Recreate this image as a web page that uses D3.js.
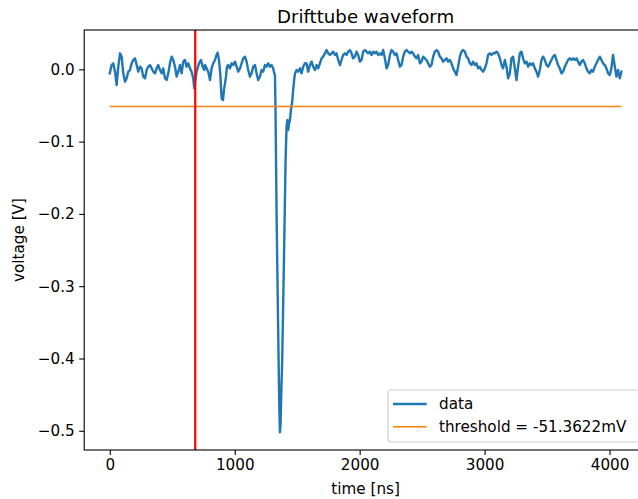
<!DOCTYPE html>
<html><head><meta charset="utf-8">
<script src="https://cdn.jsdelivr.net/npm/d3@7"></script>
<style>body{margin:0;background:#fff} svg text{font-family:"DejaVu Sans",sans-serif;fill:#000}</style>
</head><body><svg id="c" width="638" height="499"></svg>
<script>
// time axis [ns]
const times = [0,15,28,42,55,68,82,95,108,122,135,148,162,175,188,202,215,228,242,255,268,282,295,308,322,335,348,362,375,388,402,415,428,442,455,468,482,495,508,522,535,548,562,575,588,602,615,628,642,655,668,676,695,714,730,743,756,
762,775,788,802,815,828,842,855,863,874,884,895,906,914,922,930,938,948,962,975,988,1002,1015,1028,1042,1055,1068,1082,1095,1108,1122,1135,1148,1162,1175,1188,1202,1215,1228,1242,1255,1268,1282,1295,1308,1316,
1322,1326,1335,1346,1356,1362,1367,1373,1380,1394,1407,1415,1422,1428,1436,1442,1450,1460,1468,1476,1482,1495,1508,1522,1535,1548,
1562,1575,1588,1602,1615,1628,1642,1655,1668,1682,1695,1708,1722,1735,1748,1762,1775,1788,1802,1815,1828,1842,1855,1868,1882,1895,1908,1922,1935,1948,1962,1975,1988,2002,2015,2028,2042,2055,2068,2082,2095,2108,2122,2135,2148,2162,2175,2188,2202,2215,2228,2242,2255,2268,2282,2295,2308,2322,2335,2348,2362,
2375,2388,2402,2415,2428,2442,2455,2468,2482,2495,2508,2522,2535,2548,2562,2575,2588,2602,2615,2628,2642,2655,2668,2682,2695,2708,2722,2735,2748,2762,2775,2788,2802,2815,2828,2842,2855,2868,2882,2895,2908,2922,2935,2948,2962,2975,2988,3002,3015,3028,3042,3055,3068,3082,3095,3108,3122,3135,3148,3162,3175,3188,3202,
3215,3228,3242,3255,3268,3282,3295,3308,3322,3335,3348,3362,3375,3388,3402,3415,3428,3442,3455,3468,3482,3495,3508,3522,3535,3548,3562,3575,3588,3602,3615,3628,3642,3655,3668,3682,3695,3708,3722,3735,3748,3762,3775,3788,3802,3815,3828,3842,3855,3868,3882,3895,3908,3922,3935,3948,3962,3975,3988,4002,4015,4028,4042,4055,4068,4082,4095];
// voltage [mV]
const voltsMV = [-5.6,5.9,8.3,-3.3,-21.7,3.6,22.1,17.5,-5.6,-17.1,-12.5,-3.3,-1.0,8.3,12.9,15.2,5.9,-3.3,3.6,1.3,-10.2,-12.5,-1.0,3.6,5.9,1.3,-3.3,-5.6,1.3,5.9,-1.0,-5.6,1.3,-12.5,-14.8,-5.6,8.3,17.5,12.9,3.6,-10.2,-3.3,5.9,-5.6,10.6,12.9,3.6,8.3,1.3,-3.3,-12.5,-26.3,-3.3,8.3,12.9,3.6,-1.0,
5.9,1.3,-3.3,-14.8,1.3,8.3,12.9,19.8,23.0,12.9,-5.6,-40.2,-42.5,-28.6,-19.4,-10.2,3.6,5.9,1.3,8.3,5.9,10.6,3.6,-3.3,1.3,8.3,15.2,17.5,10.6,-1.0,-10.2,-5.6,3.6,5.9,-5.6,-14.8,-10.2,-1.0,-3.3,5.9,3.6,8.3,3.6,5.9,1.3,-5.6,
-8,-50,-200,-340,-460,-502,-490,-445,-402,-264,-125,-79,-70,-84,-74,-70,-56,-45,-28,-14,-6,-1.0,-3.3,1.3,-5.6,3.6,
8.3,8.0,-3.3,5.9,10.6,3.6,-1.0,5.9,1.3,8.3,15.2,17.5,22.1,26.7,22.1,19.8,22.1,24.4,19.8,22.1,12.9,5.9,12.9,19.8,22.1,19.8,24.4,26.7,22.1,15.2,17.5,24.4,19.8,10.6,12.9,24.4,26.7,24.4,22.1,24.4,19.8,24.4,22.1,24.4,19.8,22.1,19.8,26.7,15.2,1.3,5.9,19.8,26.7,24.4,19.8,22.1,12.9,3.6,5.9,17.5,24.4,
26.7,24.4,22.1,24.4,22.1,17.5,15.2,19.8,8.3,10.6,17.5,15.2,12.9,8.3,3.6,5.9,17.5,24.4,26.7,24.4,17.5,15.2,10.6,12.9,15.2,10.6,12.9,8.3,1.3,-3.3,-7.9,3.6,17.5,24.4,26.7,24.4,17.5,15.2,8.3,5.9,10.6,5.9,8.3,1.3,3.6,-1.0,-3.3,1.3,8.3,19.8,22.1,19.8,22.1,22.1,24.4,22.1,15.2,5.9,1.3,12.9,3.6,-12.5,-5.6,
15.2,17.5,1.3,-14.8,3.6,22.1,24.4,15.2,8.3,10.6,3.6,8.3,5.9,8.3,1.3,-3.3,-10.2,-1.0,12.9,17.5,12.9,5.9,3.6,8.3,12.9,17.5,19.8,12.9,5.9,1.3,-5.6,-3.3,3.6,8.3,12.9,15.2,12.9,15.2,12.9,15.2,10.6,5.9,10.6,12.9,8.3,1.3,-3.3,-5.6,-1.0,-3.3,3.6,8.3,12.9,17.5,12.9,8.3,5.9,1.3,-5.6,-7.9,1.9,19.8,3.6,-10.2,-1.0,-12.5,-3.3];
const thresholdMV = -51.3622;
const thresholdSpan = [0, 4095];
const triggerTime = 684;
const xTicks = [0, 1000, 2000, 3000, 4000];
const yTicks = [0, -0.1, -0.2, -0.3, -0.4, -0.5];
const legendLabels = ["data", "threshold = " + thresholdMV + "mV"];
const colors = {data: "#1f77b4", threshold: "#ff7f0e", trigger: "#ff0000"};

const svg = d3.select("#c");
const box = {left: 84.2, right: 647, top: 30, bottom: 450};
const x = d3.scaleLinear().domain([-204.75, 4299.75]).range([box.left, box.right]);
const y = d3.scaleLinear().domain([-0.5266, 0.05436]).range([box.bottom, box.top]);
const FS = 15.2;

svg.append("rect").attr("width", 638).attr("height", 499).attr("fill", "#fff");

const data = times.map((t, i) => [t, voltsMV[i] / 1000]);
svg.append("path").datum(data)
  .attr("fill", "none").attr("stroke", colors.data).attr("stroke-width", 2.4)
  .attr("stroke-linejoin", "round").attr("stroke-linecap", "square")
  .attr("d", d3.line().x(d => x(d[0])).y(d => y(d[1])));

svg.append("path").datum(thresholdSpan.map(t => [t, thresholdMV / 1000]))
  .attr("fill", "none").attr("stroke", colors.threshold).attr("stroke-width", 1.4)
  .attr("d", d3.line().x(d => x(d[0])).y(d => y(d[1])));

svg.append("line")
  .attr("x1", x(triggerTime)).attr("x2", x(triggerTime))
  .attr("y1", y.range()[0]).attr("y2", y.range()[1])
  .attr("stroke", colors.trigger).attr("stroke-width", 2.2);

// spines
svg.append("rect").attr("x", box.left).attr("y", box.top)
  .attr("width", box.right - box.left).attr("height", box.bottom - box.top)
  .attr("fill", "none").attr("stroke", "#000").attr("stroke-width", 1.1);

const gx = svg.append("g").attr("transform", `translate(0,${box.bottom})`)
  .call(d3.axisBottom(x).tickValues(xTicks).tickFormat(d3.format("d")).tickSize(5).tickPadding(4.5));
const gy = svg.append("g").attr("transform", `translate(${box.left},0)`)
  .call(d3.axisLeft(y).tickValues(yTicks).tickFormat(d3.format(".1f")).tickSize(5).tickPadding(4.5));
[gx, gy].forEach(g => {
  g.select(".domain").remove();
  g.attr("font-family", null).attr("font-size", null);
  g.selectAll(".tick line").attr("stroke", "#000").attr("stroke-width", 1.1);
  g.selectAll(".tick text").style("font-size", FS + "px").attr("fill", "#000");
});

const cx = (box.left + box.right) / 2;
svg.append("text").attr("x", cx).attr("y", 23).attr("text-anchor", "middle")
  .style("font-size", "18.2px").text("Drifttube waveform");
svg.append("text").attr("x", cx).attr("y", 494).attr("text-anchor", "middle")
  .style("font-size", FS + "px").text("time [ns]");
svg.append("text").attr("transform", `translate(24,${(box.top + box.bottom) / 2}) rotate(-90)`)
  .attr("text-anchor", "middle").style("font-size", FS + "px").text("voltage [V]");

// legend
const lg = svg.append("g");
lg.append("rect").attr("x", 388).attr("y", 390).attr("width", 262).attr("height", 52).attr("rx", 3)
  .attr("fill", "#fff").attr("fill-opacity", 0.8).attr("stroke", "#cccccc").attr("stroke-width", 1.1);
const legColors = [colors.data, colors.threshold];
const legWidths = [2.4, 1.4];
legendLabels.forEach((lab, i) => {
  const yy = 404 + i * 22.7;
  lg.append("line").attr("x1", 393).attr("x2", 426.7).attr("y1", yy).attr("y2", yy)
    .attr("stroke", legColors[i]).attr("stroke-width", legWidths[i]);
  lg.append("text").attr("x", 439).attr("y", yy).attr("dy", "0.35em")
    .style("font-size", FS + "px").text(lab);
});
</script>
</body></html>
